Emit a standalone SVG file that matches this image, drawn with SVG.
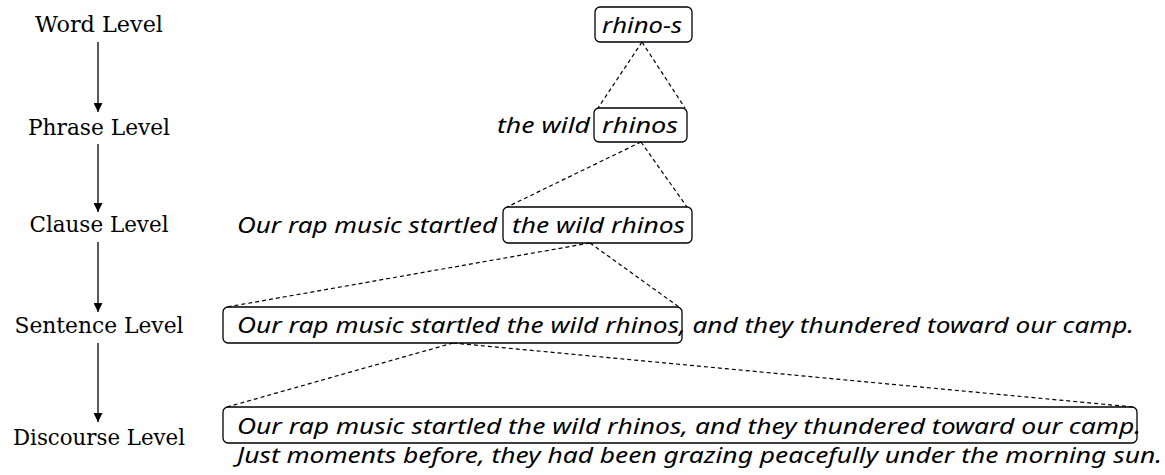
<svg xmlns="http://www.w3.org/2000/svg" width="1165" height="475" viewBox="0 0 1165 475">
  <style>
    .lvl { font-family: "DejaVu Serif", "Liberation Serif", serif; font-size: 23px; fill: #000; text-anchor: middle; }
    .it { font-family: "Noto Sans", "Open Sans", sans-serif; font-style: italic; font-size: 22px; fill: #000; }
    .box { fill: none; stroke: #000; stroke-width: 1.3; }
    .dash { fill: none; stroke: #000; stroke-width: 1.2; stroke-dasharray: 4 3; }
    .arrow { fill: none; stroke: #000; stroke-width: 1.3; }
  </style>
  <defs>
    <marker id="head" viewBox="0 0 10 10" refX="10" refY="5" markerWidth="9" markerHeight="9" markerUnits="userSpaceOnUse" orient="auto">
      <path d="M0,0 L10,5 L0,10 Z" fill="#000"/>
    </marker>
  </defs>

  <!-- level labels on the left -->
  <g id="level-word"><text class="lvl" x="99" y="32" textLength="128" lengthAdjust="spacingAndGlyphs">Word Level</text></g>
  <g id="level-phrase"><text class="lvl" x="99" y="135" textLength="142" lengthAdjust="spacingAndGlyphs">Phrase Level</text></g>
  <g id="level-clause"><text class="lvl" x="99" y="232" textLength="139" lengthAdjust="spacingAndGlyphs">Clause Level</text></g>
  <g id="level-sentence"><text class="lvl" x="99" y="333" textLength="169" lengthAdjust="spacingAndGlyphs">Sentence Level</text></g>
  <g id="level-discourse"><text class="lvl" x="99" y="445" textLength="172" lengthAdjust="spacingAndGlyphs">Discourse Level</text></g>

  <!-- word -->
  <g id="word">
    <rect class="box" x="595" y="7" width="97" height="35" rx="5"/>
    <text class="it" x="602" y="33" textLength="80" lengthAdjust="spacingAndGlyphs">rhino-s</text>
  </g>

  <!-- phrase -->
  <g id="phrase">
    <text class="it" x="497" y="133" textLength="93" lengthAdjust="spacingAndGlyphs">the wild</text>
    <rect class="box" x="594" y="108" width="93" height="34" rx="5"/>
    <text class="it" x="602" y="133" textLength="76" lengthAdjust="spacingAndGlyphs">rhinos</text>
  </g>

  <!-- clause -->
  <g id="clause">
    <text class="it" x="237" y="233" textLength="260" lengthAdjust="spacingAndGlyphs">Our rap music startled</text>
    <rect class="box" x="503" y="207" width="189" height="36" rx="5"/>
    <text class="it" x="512" y="233" textLength="173" lengthAdjust="spacingAndGlyphs">the wild rhinos</text>
  </g>

  <!-- sentence -->
  <g id="sentence">
    <rect class="box" x="223" y="307" width="459" height="36" rx="5"/>
    <text class="it" x="237" y="333" textLength="442" lengthAdjust="spacingAndGlyphs">Our rap music startled the wild rhinos</text>
    <text class="it" x="679" y="333" textLength="455" lengthAdjust="spacingAndGlyphs">, and they thundered toward our camp.</text>
  </g>

  <!-- discourse -->
  <g id="discourse">
    <rect class="box" x="223" y="407" width="914" height="36" rx="5"/>
    <text class="it" x="237" y="434" textLength="904" lengthAdjust="spacingAndGlyphs">Our rap music startled the wild rhinos, and they thundered toward our camp.</text>
    <text class="it" x="237" y="463" textLength="925" lengthAdjust="spacingAndGlyphs">Just moments before, they had been grazing peacefully under the morning sun.</text>
  </g>

  <!-- connectors -->
  <g id="connectors">
    <line class="arrow" x1="98" y1="42" x2="98" y2="112" marker-end="url(#head)"/>
    <line class="arrow" x1="98" y1="144" x2="98" y2="212" marker-end="url(#head)"/>
    <line class="arrow" x1="98" y1="242" x2="98" y2="312" marker-end="url(#head)"/>
    <line class="arrow" x1="98" y1="343" x2="98" y2="422" marker-end="url(#head)"/>

    <line class="dash" x1="642" y1="42" x2="598" y2="108"/>
    <line class="dash" x1="642" y1="42" x2="685" y2="108"/>
    <line class="dash" x1="641" y1="142" x2="507" y2="207"/>
    <line class="dash" x1="641" y1="142" x2="687" y2="207"/>
    <line class="dash" x1="590" y1="243" x2="227" y2="307"/>
    <line class="dash" x1="590" y1="243" x2="679" y2="307"/>
    <line class="dash" x1="453" y1="343" x2="227" y2="407"/>
    <line class="dash" x1="453" y1="343" x2="1133" y2="407"/>
  </g>
</svg>
